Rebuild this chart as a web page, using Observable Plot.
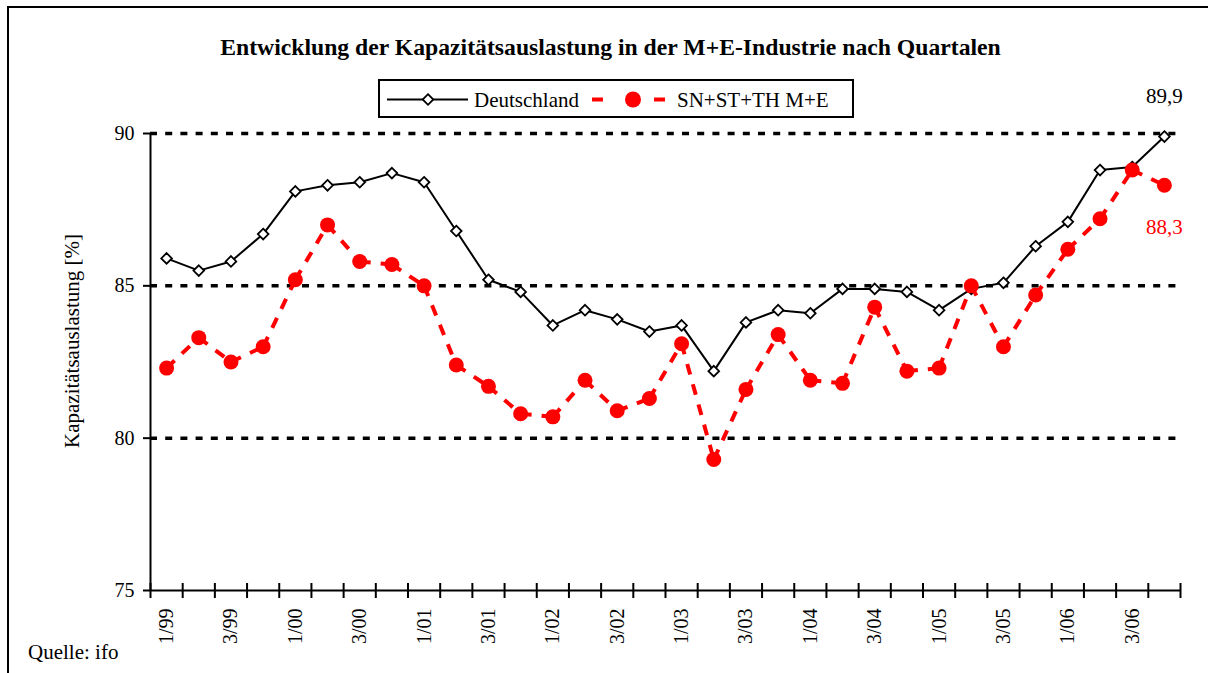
<!DOCTYPE html>
<html>
<head>
<meta charset="utf-8">
<script src="https://cdn.jsdelivr.net/npm/d3@7"></script>
<script src="https://cdn.jsdelivr.net/npm/@observablehq/plot@0.6"></script>
<style>
  html, body { margin: 0; padding: 0; overflow: hidden; background: #fff; }
  #wrap { position: relative; width: 1208px; height: 673px; font-family: "Liberation Serif", "Times New Roman", serif; }
  #frame { position: absolute; left: 7px; top: 6px; width: 1400px; height: 900px; border: 2.5px solid #000; box-sizing: border-box; }
  #title { position: absolute; left: 0; width: 1221px; top: 33px; text-align: center; font-weight: bold; font-size: 23.7px; line-height: 28px; }
  #legend { position: absolute; left: 378px; top: 79px; width: 476px; height: 39px; border: 2px solid #000; box-sizing: border-box; background: #fff; }
  #legend svg { position: absolute; left: 0; top: 0; }
  #source { position: absolute; left: 28px; top: 640px; font-size: 21px; line-height: 24px; }
  #chart { position: absolute; left: 0; top: 0; }
  #chart svg text { font-family: "Liberation Serif", "Times New Roman", serif !important; }
</style>
</head>
<body>
<div id="wrap">
  <div id="frame"></div>
  <div id="chart"></div>
  <div id="title"></div>
  <div id="legend"></div>
  <div id="source"></div>
</div>
<script>
// ---- data ----
const quarters = [
  "1/99","2/99","3/99","4/99",
  "1/00","2/00","3/00","4/00",
  "1/01","2/01","3/01","4/01",
  "1/02","2/02","3/02","4/02",
  "1/03","2/03","3/03","4/03",
  "1/04","2/04","3/04","4/04",
  "1/05","2/05","3/05","4/05",
  "1/06","2/06","3/06","4/06"
];
const deutschland = [
  85.9, 85.5, 85.8, 86.7,
  88.1, 88.3, 88.4, 88.7,
  88.4, 86.8, 85.2, 84.8,
  83.7, 84.2, 83.9, 83.5,
  83.7, 82.2, 83.8, 84.2,
  84.1, 84.9, 84.9, 84.8,
  84.2, 84.9, 85.1, 86.3,
  87.1, 88.8, 88.9, 89.9
];
const snstth = [
  82.3, 83.3, 82.5, 83.0,
  85.2, 87.0, 85.8, 85.7,
  85.0, 82.4, 81.7, 80.8,
  80.7, 81.9, 80.9, 81.3,
  83.1, 79.3, 81.6, 83.4,
  81.9, 81.8, 84.3, 82.2,
  82.3, 85.0, 83.0, 84.7,
  86.2, 87.2, 88.8, 88.3
];
const tickLabels = ["1/99","3/99","1/00","3/00","1/01","3/01","1/02","3/02","1/03","3/03","1/04","3/04","1/05","3/05","1/06","3/06"];
const yTicks = [75, 80, 85, 90];
const gridValues = [80, 85, 90];
const seriesNames = ["Deutschland", "SN+ST+TH M+E"];
const titleText = "Entwicklung der Kapazitätsauslastung in der M+E-Industrie nach Quartalen";
const yTitle = "Kapazitätsauslastung [%]";
const sourceText = "Quelle: ifo";

// ---- derived tables ----
const RED = "#ff0000";
const SERIF = "Liberation Serif, Times New Roman, serif";
const de = quarters.map((q, i) => ({i, q, v: deutschland[i]}));
const sn = quarters.map((q, i) => ({i, q, v: snstth[i]}));
const snSegments = sn.slice(1).map((d, k) => ({x1: sn[k].i, y1: sn[k].v, x2: d.i, y2: d.v}));
const boundaries = d3.range(quarters.length + 1).map(k => k - 0.5);
const labelRows = tickLabels.map(t => ({t, i: quarters.indexOf(t)}));
const fmt = v => d3.format(".1f")(v).replace(".", ",");

const chart = Plot.plot({
  width: 1208,
  height: 673,
  marginLeft: 150,
  marginRight: 28,
  marginTop: 133,
  marginBottom: 83,
  x: {domain: [-0.5, quarters.length - 0.5], axis: null},
  y: {domain: [75, 90], axis: null},
  style: {fontFamily: SERIF, fontSize: "20px", background: "transparent", color: "#000"},
  marks: [
    Plot.ruleY(gridValues, {stroke: "#000", strokeWidth: 3.5, strokeDasharray: "7,8.2"}),
    Plot.ruleX([-0.5], {y1: 75, y2: 90, stroke: "#000", strokeWidth: 2}),
    Plot.axisY({ticks: yTicks, tickSize: 7, tickPadding: 9, strokeWidth: 2, fontSize: 20, fontFamily: SERIF, tickFormat: d => d}),
    Plot.ruleY([75], {stroke: "#000", strokeWidth: 2}),
    Plot.ruleX(boundaries, {x: d => d, y1: 75, y2: 75, insetTop: -7, insetBottom: -8, stroke: "#000", strokeWidth: 2}),
    Plot.text(labelRows, {x: "i", text: "t", frameAnchor: "bottom", rotate: -90, textAnchor: "end", lineAnchor: "middle", dy: 18, fontSize: 20, fontFamily: SERIF}),
    Plot.text([yTitle], {text: d => d, frameAnchor: "left", rotate: -90, textAnchor: "middle", lineAnchor: "middle", dx: -78, dy: -21, fontSize: 21, fontFamily: SERIF}),
    Plot.line(de, {x: "i", y: "v", stroke: "#000", strokeWidth: 2}),
    Plot.dot(de, {x: "i", y: "v", symbol: "diamond2", r: 4.8, fill: "#fff", stroke: "#000", strokeWidth: 1.8}),
    Plot.link(snSegments, {x1: "x1", y1: "y1", x2: "x2", y2: "y2", stroke: RED, strokeWidth: 4, strokeDasharray: "11,10"}),
    Plot.dot(sn, {x: "i", y: "v", r: 7.5, fill: RED}),
    Plot.text([de[de.length - 1]], {x: "i", y: "v", text: d => fmt(d.v), dy: -40, fontSize: 21, fontFamily: SERIF, fill: "#000"}),
    Plot.text([sn[sn.length - 1]], {x: "i", y: "v", text: d => fmt(d.v), dy: 42, fontSize: 21, fontFamily: SERIF, fill: RED})
  ]
});
document.getElementById("chart").appendChild(chart);

document.getElementById("title").textContent = titleText;
document.getElementById("source").textContent = sourceText;

// legend
const lg = d3.select("#legend").append("svg").attr("width", 476).attr("height", 39);
lg.append("line").attr("x1", 7).attr("x2", 88).attr("y1", 18.5).attr("y2", 18.5).attr("stroke", "#000").attr("stroke-width", 2);
lg.append("path").attr("d", d3.symbol(d3.symbolDiamond2, Math.PI * 4.8 * 4.8)()).attr("transform", "translate(48,18.5)")
  .attr("fill", "#fff").attr("stroke", "#000").attr("stroke-width", 1.8);
lg.append("text").attr("x", 94).attr("y", 25.5).attr("font-size", 21).attr("font-family", SERIF).text(seriesNames[0]);
lg.append("line").attr("x1", 212).attr("x2", 286).attr("y1", 18.5).attr("y2", 18.5).attr("stroke", RED).attr("stroke-width", 4).attr("stroke-dasharray", "11,51,11");
lg.append("circle").attr("cx", 253).attr("cy", 18.5).attr("r", 8).attr("fill", RED);
lg.append("text").attr("x", 297).attr("y", 25.5).attr("font-size", 21).attr("font-family", SERIF).text(seriesNames[1]);
</script>
</body>
</html>
